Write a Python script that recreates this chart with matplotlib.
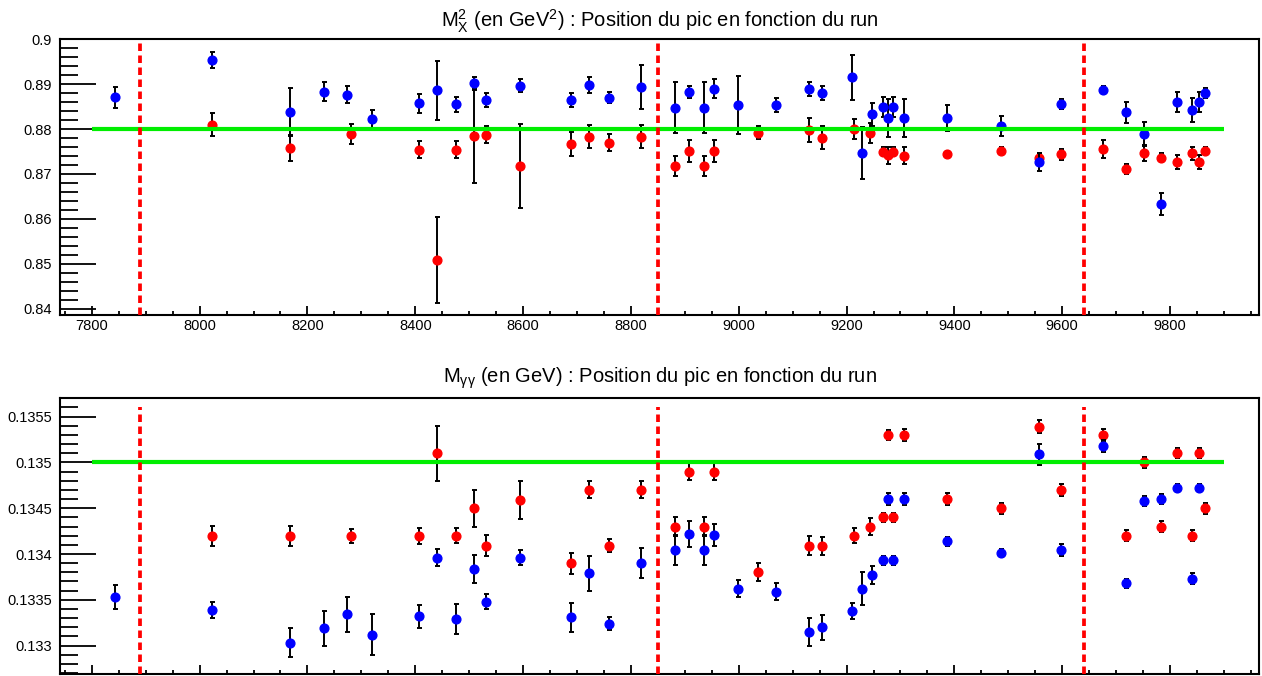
import numpy as np
import matplotlib
matplotlib.use("Agg")
import matplotlib.pyplot as plt
from matplotlib.ticker import MultipleLocator, FuncFormatter

plt.rcParams['font.family'] = ['Liberation Sans', 'DejaVu Sans']
plt.rcParams['mathtext.fontset'] = 'custom'
plt.rcParams['mathtext.rm'] = 'Liberation Sans'
plt.rcParams['mathtext.it'] = 'Liberation Sans:italic'
plt.rcParams['mathtext.bf'] = 'Liberation Sans:bold'

# ---------------- data ----------------
runs_blue = [7843, 8023, 8168, 8231, 8274, 8319, 8407, 8440, 8475, 8509, 8532, 8594,
             8688, 8722, 8760, 8818, 8881, 8907, 8936, 8955, 8999, 9069, 9131, 9154,
             9210, 9228, 9247, 9267, 9277, 9287, 9306, 9387, 9486, 9557, 9597, 9676,
             9718, 9751, 9783, 9813, 9841, 9853, 9865]
mx2_blue = [0.8871, 0.8954, 0.8838, 0.8883, 0.8876, 0.8822, 0.8857, 0.8886, 0.8855, 0.8903,
            0.8865, 0.8897, 0.8865, 0.8899, 0.8870, 0.8894, 0.8848, 0.8883, 0.8848, 0.8890,
            0.8854, 0.8854, 0.8890, 0.8881, 0.8915, 0.8746, 0.8833, 0.8850, 0.8825, 0.8850,
            0.8825, 0.8825, 0.8807, 0.8727, 0.8855, 0.8888, 0.8837, 0.8789, 0.8633, 0.8860,
            0.8842, 0.8860, 0.8881]
mx2_blue_err = [0.0023, 0.0018, 0.0054, 0.0021, 0.0019, 0.0021, 0.0022, 0.0066, 0.0016, 0.0013,
                0.0015, 0.0015, 0.0016, 0.0018, 0.0012, 0.0049, 0.0057, 0.0013, 0.0057, 0.0021,
                0.0065, 0.0015, 0.0016, 0.0016, 0.0051, 0.0058, 0.0026, 0.0022, 0.0042, 0.0022,
                0.0042, 0.0029, 0.0023, 0.0020, 0.0011, 0.0009, 0.0023, 0.0027, 0.0024, 0.0023,
                0.0027, 0.0023, 0.0011]
mgg_blue = [0.13353, 0.13339, 0.13303, 0.13319, 0.13334, 0.13312, 0.13332, 0.13396, 0.13329, 0.13384,
            0.13348, 0.13396, 0.13331, 0.13379, 0.13324, 0.13390, 0.13404, 0.13422, 0.13404, 0.13421,
            0.13362, 0.13359, 0.13315, 0.13320, 0.13338, 0.13362, 0.13377, 0.13393, 0.13460, 0.13393,
            0.13460, 0.13414, 0.13401, 0.13509, 0.13404, 0.13518, 0.13368, 0.13458, 0.13460, 0.13472,
            0.13373, 0.13472, np.nan]
mgg_blue_err = [0.000127, 0.000089, 0.000158, 0.000190, 0.000196, 0.000220, 0.000124, 0.000093, 0.000160, 0.000154,
                0.000085, 0.000085, 0.000156, 0.000190, 0.000067, 0.000165, 0.000164, 0.000145, 0.000164, 0.000120,
                0.000093, 0.000090, 0.000154, 0.000136, 0.000087, 0.000180, 0.000094, 0.000050, 0.000070, 0.000050,
                0.000070, 0.000050, 0.000047, 0.000114, 0.000067, 0.000064, 0.000049, 0.000055, 0.000051, 0.000045,
                0.000058, 0.000045, np.nan]

runs_red = [8023, 8168, 8280, 8407, 8440, 8475, 8509, 8532, 8594, 8688, 8722, 8760, 8818,
            8881, 8907, 8936, 8955, 9035, 9131, 9154, 9213, 9244, 9267, 9277, 9287, 9306,
            9387, 9486, 9557, 9597, 9676, 9718, 9751, 9783, 9813, 9841, 9853, 9865]
mx2_red = [0.8810, 0.8757, 0.8789, 0.8754, 0.8508, 0.8754, 0.8784, 0.8787, 0.8718, 0.8767,
           0.8783, 0.8770, 0.8783, 0.8718, 0.8751, 0.8718, 0.8751, 0.8792, 0.8798, 0.8781,
           0.8800, 0.8792, 0.8749, 0.8742, 0.8749, 0.8741, 0.8744, 0.8752, 0.8736, 0.8744,
           0.8755, 0.8711, 0.8747, 0.8736, 0.8726, 0.8746, 0.8726, 0.8752]
mx2_red_err = [0.0025, 0.0029, 0.0022, 0.0019, 0.0096, 0.0019, 0.0104, 0.0019, 0.0094, 0.0026,
               0.0025, 0.0018, 0.0025, 0.0023, 0.0025, 0.0023, 0.0025, 0.0015, 0.0027, 0.0025,
               0.0023, 0.0022, 0.0010, 0.0019, 0.0010, 0.0018, 0.0007, 0.0008, 0.0011, 0.0012,
               0.0020, 0.0011, 0.0017, 0.0010, 0.0016, 0.0015, 0.0016, 0.0008]
mgg_red = [0.13420, 0.13420, 0.13420, 0.13420, 0.13510, 0.13420, 0.13450, 0.13409, 0.13459, 0.13390,
           0.13470, 0.13409, 0.13470, 0.13430, 0.13490, 0.13430, 0.13490, 0.13380, 0.13409, 0.13409,
           0.13420, 0.13430, 0.13440, 0.13530, 0.13440, 0.13530, 0.13460, 0.13450, 0.13539, 0.13470,
           0.13530, 0.13420, 0.13500, 0.13430, 0.13510, 0.13420, 0.13510, 0.13450]
mgg_red_err = [0.000109, 0.000109, 0.000076, 0.000087, 0.000300, 0.000084, 0.000200, 0.000114, 0.000205, 0.000113,
               0.000093, 0.000073, 0.000093, 0.000100, 0.000094, 0.000100, 0.000094, 0.000100, 0.000105, 0.000096,
               0.000084, 0.000094, 0.000050, 0.000058, 0.000050, 0.000062, 0.000067, 0.000058, 0.000069, 0.000067,
               0.000062, 0.000058, 0.000064, 0.000055, 0.000055, 0.000058, 0.000055, 0.000058]

period_bounds = [7889, 8851, 9641]
mx2_ref = 0.88
mgg_ref = 0.135
ref_x_range = [7800, 9900]

title_top = r'$\mathrm{M}_{\mathrm{X}}^{2}$ (en GeV$^{2}$) : Position du pic en fonction du run'
title_bot = r'$\mathrm{M}_{\mathrm{γγ}}$ (en GeV) : Position du pic en fonction du run'

# ---------------- figure ----------------
W, H = 1262, 676
fig = plt.figure(figsize=(W / 100, H / 100), dpi=100)

def axrect(l, t, r, b):
    return [l / W, 1 - b / H, (r - l) / W, (b - t) / H]

ax1 = fig.add_axes(axrect(60, 39.3, 1259, 314.5))
ax2 = fig.add_axes(axrect(60, 398.3, 1259, 674))

xlim = (7741, 9965)

def style(ax, ymaj, ymin_, labelbottom=True):
    ax.set_xlim(*xlim)
    ax.xaxis.set_major_locator(MultipleLocator(200))
    ax.xaxis.set_minor_locator(MultipleLocator(50))
    ax.yaxis.set_major_locator(MultipleLocator(ymaj))
    ax.yaxis.set_minor_locator(MultipleLocator(ymin_))
    ax.yaxis.set_major_formatter(FuncFormatter(lambda v, p: ('%.5g' % round(v, 6))))
    ax.tick_params(axis='y', which='major', direction='in', length=26, width=1.3,
                   labelsize=10.5, pad=6, right=False, left=True)
    ax.tick_params(axis='y', which='minor', direction='in', length=13, width=1.3,
                   right=False, left=True)
    ax.tick_params(axis='x', which='major', direction='in', length=6.5, width=1.3,
                   labelsize=10.5, pad=3, top=False, bottom=True, labelbottom=labelbottom)
    ax.tick_params(axis='x', which='minor', direction='in', length=3, width=1.3,
                   top=False, bottom=True)
    for s in ax.spines.values():
        s.set_linewidth(1.5)

def draw(ax, yb, eb, yr, er, yref, vtop):
    ax.errorbar(runs_red, yr, yerr=er, fmt='o', color='red', ms=6.3, mec='red',
                ecolor='black', elinewidth=1.4, capsize=1.8, capthick=1.4, zorder=3)
    ax.errorbar(runs_blue, yb, yerr=eb, fmt='o', color='blue', ms=6.3, mec='blue',
                ecolor='black', elinewidth=1.4, capsize=1.8, capthick=1.4, zorder=4)
    ax.plot(ref_x_range, [yref, yref], color='#00ee00', lw=3.0, zorder=5,
            solid_capstyle='butt')
    y0 = ax.get_ylim()[0]
    for xv in period_bounds:
        ax.plot([xv, xv], [y0, vtop], color='red', lw=2.7, ls=(0, (2.0, 1.2)), zorder=6,
                clip_on=True)

ax1.set_ylim(0.8387, 0.9)
style(ax1, 0.01, 0.002)
draw(ax1, mx2_blue, mx2_blue_err, mx2_red, mx2_red_err, mx2_ref, 0.9)

ax2.set_ylim(0.13269, 0.13570)
style(ax2, 0.0005, 0.0001, labelbottom=False)
draw(ax2, mgg_blue, mgg_blue_err, mgg_red, mgg_red_err, mgg_ref, 0.13561)

ax1.text(0.5, (314.5 - 27) / (314.5 - 39.3), title_top, transform=ax1.transAxes,
         ha='center', va='baseline', fontsize=14.5)
ax2.text(0.5, (674 - 382.7) / (674 - 398.3), title_bot, transform=ax2.transAxes,
         ha='center', va='baseline', fontsize=14.5)

fig.savefig('out.png', dpi=100)
